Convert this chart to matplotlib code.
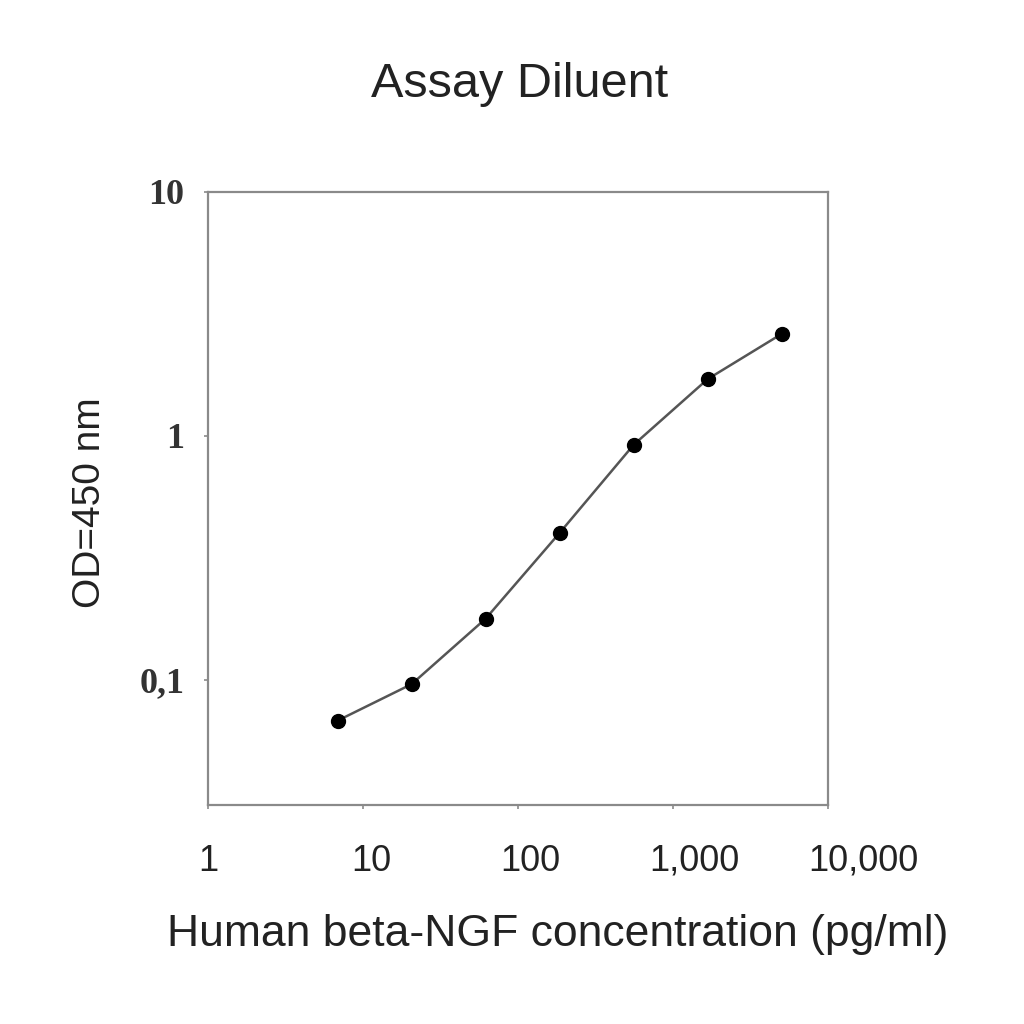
import matplotlib
matplotlib.use("Agg")
import matplotlib.pyplot as plt
import matplotlib.transforms as mtransforms
from matplotlib.ticker import FixedLocator, FixedFormatter, NullLocator

# Standard curve values
concentration = [6.86, 20.6, 61.7, 185, 556, 1667, 5000]
od_450 = [0.068, 0.096, 0.178, 0.40, 0.92, 1.71, 2.62]

x_ticks = [1, 10, 100, 1000, 10000]
x_tick_labels = ["1", "10", "100", "1,000", "10,000"]
y_ticks = [0.1, 1, 10]
y_tick_labels = ["0,1", "1", "10"]

fig = plt.figure(figsize=(10.24, 10.24), dpi=100)
ax = fig.add_axes([0.203, 0.214, 0.606, 0.5985])

ax.plot(concentration, od_450, color='#555555', lw=1.8, marker='o',
        markersize=10, markerfacecolor='black', markeredgecolor='black')

ax.set_xscale('log')
ax.set_yscale('log')
ax.set_xlim(1, 10000)
ax.set_ylim(0.0307, 10)

ax.xaxis.set_major_locator(FixedLocator(x_ticks))
ax.xaxis.set_major_formatter(FixedFormatter(x_tick_labels))
ax.xaxis.set_minor_locator(NullLocator())
ax.yaxis.set_major_locator(FixedLocator(y_ticks))
ax.yaxis.set_major_formatter(FixedFormatter(y_tick_labels))
ax.yaxis.set_minor_locator(NullLocator())

for sp in ax.spines.values():
    sp.set_color('#8a8a8a')
    sp.set_linewidth(1.6)

ax.tick_params(axis='both', direction='out', length=3, width=1.2, color='#8a8a8a')
ax.tick_params(axis='x', pad=25)
ax.tick_params(axis='y', pad=14)

# the x tick labels in the original sit a little right of their ticks
x_shift_px = [0, 8, 12, 21, 35]
for lab, dx in zip(ax.get_xticklabels(), x_shift_px):
    lab.set_fontfamily('Liberation Sans')
    lab.set_fontsize(26)
    lab.set_color('#222222')
    lab.set_transform(lab.get_transform() + mtransforms.Affine2D().translate(dx, 0))
for lab in ax.get_yticklabels():
    lab.set_fontfamily('Liberation Serif')
    lab.set_fontsize(26)
    lab.set_fontweight('bold')
    lab.set_color('#333333')

fig.text(0.507, 0.917, "Assay Diluent", ha='center', va='center',
         fontsize=35, family='Liberation Sans', color='#222222')
fig.text(0.545, 0.087, "Human beta-NGF concentration (pg/ml)", ha='center', va='center',
         fontsize=32, family='Liberation Sans', color='#222222')
fig.text(0.088, 0.509, "OD=450 nm", ha='center', va='center', rotation=90,
         fontsize=28, family='Liberation Sans', color='#222222')

fig.savefig("out.png", dpi=100, facecolor='white')
